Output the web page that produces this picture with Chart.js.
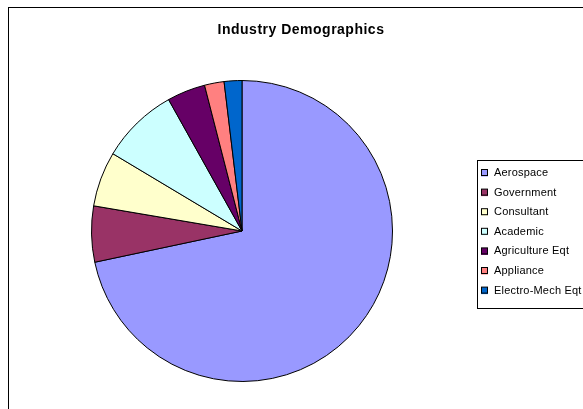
<!DOCTYPE html>
<html>
<head>
<meta charset="utf-8">
<script src="https://cdn.jsdelivr.net/npm/chart.js@4/dist/chart.umd.min.js"></script>
<style>
html,body{margin:0;padding:0;background:#fff;overflow:hidden;}
canvas{display:block;}
</style>
</head>
<body>
<canvas id="c" width="583" height="409"></canvas>
<script>
const categories = ["Aerospace","Government","Consultant","Academic","Agriculture Eqt","Appliance","Electro-Mech Eqt"];
const shares = [71.6, 6.0, 5.9, 8.3, 4.1, 2.1, 1.9];
const colors = ["#9999FF","#993366","#FFFFCC","#CCFFFF","#660066","#FF8080","#0066CC"];
const titleText = "Industry Demographics";

const decor = {
  id: 'decor',
  beforeDraw(chart) {
    const ctx = chart.ctx;
    ctx.save();
    ctx.fillStyle = '#fff';
    ctx.fillRect(0, 0, chart.width, chart.height);
    ctx.strokeStyle = '#000';
    ctx.lineWidth = 1;
    ctx.strokeRect(8.5, 7.5, 800, 600);
    ctx.restore();
  },
  afterDraw(chart) {
    const ctx = chart.ctx;
    ctx.save();
    ctx.fillStyle = '#000';
    ctx.font = 'bold 14px "Liberation Sans", Arial, sans-serif';
    if ('letterSpacing' in ctx) ctx.letterSpacing = '0.5px';
    ctx.textAlign = 'center';
    ctx.textBaseline = 'middle';
    ctx.fillText(titleText, 301, 30);
    if ('letterSpacing' in ctx) ctx.letterSpacing = '0.2px';
    // legend
    const lx = 477.5, ly = 160.5;
    ctx.strokeStyle = '#000';
    ctx.lineWidth = 1;
    ctx.strokeRect(lx, ly, 200, 148);
    ctx.font = '11px "Liberation Sans", Arial, sans-serif';
    ctx.textAlign = 'left';
    const labels = chart.data.labels;
    const bg = chart.data.datasets[0].backgroundColor;
    labels.forEach((lab, i) => {
      const y = 173 + i * 19.6;
      ctx.fillStyle = bg[i];
      ctx.fillRect(481, y - 3.5, 7, 7);
      ctx.strokeStyle = '#000';
      ctx.strokeRect(481.5, y - 3.5, 6, 6);
      ctx.fillStyle = '#000';
      ctx.fillText(lab, 494, y);
    });
    ctx.restore();
  }
};

new Chart(document.getElementById('c'), {
  type: 'pie',
  data: {
    labels: categories,
    datasets: [{
      data: shares,
      backgroundColor: colors,
      borderColor: '#000',
      borderWidth: 1
    }]
  },
  options: {
    responsive: false,
    animation: false,
    layout: { padding: { left: 91, right: 190, top: 80, bottom: 27 } },
    plugins: {
      legend: { display: false },
      title: { display: false },
      tooltip: { enabled: false }
    }
  },
  plugins: [decor]
});
</script>
</body>
</html>
